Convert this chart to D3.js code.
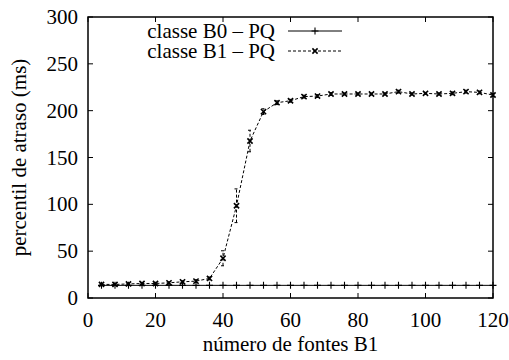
<!DOCTYPE html>
<html>
<head>
<meta charset="utf-8">
<script src="https://cdn.jsdelivr.net/npm/d3@7"></script>
<style>
  html, body { margin: 0; padding: 0; background: #fff; }
  svg { display: block; }
</style>
</head>
<body>
<svg id="chart" width="509" height="360"></svg>
<script>
// number of B1 sources
const fontes = [4, 8, 12, 16, 20, 24, 28, 32, 36, 40, 44, 48, 52, 56, 60,
                64, 68, 72, 76, 80, 84, 88, 92, 96, 100, 104, 108, 112, 116, 120];
// delay percentile (ms), class B0 - PQ
const classeB0 = [13.5, 13.5, 13.5, 13.5, 13.5, 13.5, 13.5, 13.5, 13.5, 13.5,
                  13.5, 13.5, 13.5, 13.5, 13.5, 13.5, 13.5, 13.5, 13.5, 13.5,
                  13.5, 13.5, 13.5, 13.5, 13.5, 13.5, 13.5, 13.5, 13.5, 13.5];
// delay percentile (ms), class B1 - PQ
const classeB1 = [14.5, 14.5, 15, 15.5, 15.5, 16.2, 17.3, 18, 20.9, 42.4,
                  98.5, 167.6, 199, 208.5, 210.6, 215, 215.6, 217.8, 217.8, 217.8,
                  217.8, 217.8, 220.3, 217.8, 218.5, 217.8, 218.5, 220.3, 219.5, 216.7];
// half-width of the B1 error bars (ms)
const erroB1 = [0.5, 0.5, 0.5, 0.8, 0.8, 1, 1, 1.5, 1.5, 8,
                18, 11.5, 3, 2, 1.5, 1.5, 1.5, 1.5, 1, 1,
                1, 1, 1.5, 1, 1, 1, 1.5, 1.5, 1.5, 1.5];

const xTicks = [0, 20, 40, 60, 80, 100, 120];
const yTicks = [0, 50, 100, 150, 200, 250, 300];
const legendLabels = ["classe B0 \u2013 PQ", "classe B1 \u2013 PQ"];
const xLabel = "número de fontes B1";
const yLabel = "percentil de atraso (ms)";

const FONT = '"Liberation Serif", "Times New Roman", serif';
const FS = 21;

const svg = d3.select("#chart");
const plotLeft = 88, plotRight = 493, plotTop = 17, plotBottom = 298;

const x = d3.scaleLinear().domain([0, 120]).range([plotLeft, plotRight]);
const y = d3.scaleLinear().domain([0, 300]).range([plotBottom, plotTop]);

function label(sel) {
  return sel.style("font-family", FONT).style("font-size", FS + "px").attr("fill", "#000");
}

// Inward ticks on all four sides (gnuplot style, mirrored)
const tickLen = 5;
const axes = svg.append("g").attr("stroke", "#000").attr("stroke-width", 1);
xTicks.forEach(t => {
  axes.append("line").attr("x1", x(t)).attr("x2", x(t)).attr("y1", plotBottom).attr("y2", plotBottom - tickLen);
  axes.append("line").attr("x1", x(t)).attr("x2", x(t)).attr("y1", plotTop).attr("y2", plotTop + tickLen);
});
yTicks.forEach(t => {
  axes.append("line").attr("x1", plotLeft).attr("x2", plotLeft + tickLen).attr("y1", y(t)).attr("y2", y(t));
  axes.append("line").attr("x1", plotRight).attr("x2", plotRight - tickLen).attr("y1", y(t)).attr("y2", y(t));
});

// Tick labels
svg.append("g").selectAll("text").data(xTicks).join("text")
  .attr("x", d => x(d)).attr("y", 327)
  .attr("text-anchor", "middle")
  .call(label)
  .text(d => d);
svg.append("g").selectAll("text").data(yTicks).join("text")
  .attr("x", 78).attr("y", d => y(d)).attr("dy", "0.34em")
  .attr("text-anchor", "end")
  .call(label)
  .text(d => d);

// Axis titles
svg.append("text")
  .attr("x", (plotLeft + plotRight) / 2).attr("y", 351)
  .attr("text-anchor", "middle")
  .call(label)
  .text(xLabel);
svg.append("text")
  .attr("transform", `translate(26,${(plotTop + plotBottom) / 2}) rotate(-90)`)
  .attr("text-anchor", "middle")
  .call(label)
  .text(yLabel);

// Marker helpers
function plus(g, cx, cy, s) {
  g.append("path").attr("d", `M${cx - s},${cy}H${cx + s}M${cx},${cy - s}V${cy + s}`)
    .attr("stroke", "#000").attr("stroke-width", 1.1).attr("fill", "none");
}
function cross(g, cx, cy, s) {
  g.append("path").attr("d", `M${cx - s},${cy - s}L${cx + s},${cy + s}M${cx - s},${cy + s}L${cx + s},${cy - s}`)
    .attr("stroke", "#000").attr("stroke-width", 1.6).attr("fill", "none");
}

const b0 = fontes.map((f, i) => ({ x: f, y: classeB0[i] }));
const b1 = fontes.map((f, i) => ({ x: f, y: classeB1[i], e: erroB1[i] }));
const line = d3.line().x(d => x(d.x)).y(d => y(d.y));

const plot = svg.append("g");

// Series B0: solid line with plus markers
plot.append("path").datum(b0).attr("d", line)
  .attr("fill", "none").attr("stroke", "#000").attr("stroke-width", 1);
b0.forEach(d => plus(plot, x(d.x), y(d.y), 3.5));

// Series B1: dashed line, error bars and cross markers
plot.append("path").datum(b1).attr("d", line)
  .attr("fill", "none").attr("stroke", "#000").attr("stroke-width", 1)
  .attr("stroke-dasharray", "3,2");
b1.forEach(d => {
  const cx = x(d.x), y0 = y(d.y - d.e), y1 = y(d.y + d.e);
  plot.append("path")
    .attr("d", `M${cx},${y0}V${y1}M${cx - 2},${y0}H${cx + 2}M${cx - 2},${y1}H${cx + 2}`)
    .attr("fill", "none").attr("stroke", "#000").attr("stroke-width", 1)
    .attr("stroke-dasharray", "3,2");
  cross(plot, cx, y(d.y), 2.6);
});

// Legend
const legend = svg.append("g");
legendLabels.forEach((lab, i) => {
  const ly = 31 + i * 20;
  legend.append("text").attr("x", 275).attr("y", ly).attr("dy", "0.34em")
    .attr("text-anchor", "end")
    .call(label)
    .text(lab);
  const ln = legend.append("line").attr("x1", 288).attr("x2", 342).attr("y1", ly).attr("y2", ly)
    .attr("stroke", "#000").attr("stroke-width", 1);
  if (i === 0) {
    plus(legend, 315, ly, 3.5);
  } else {
    ln.attr("stroke-dasharray", "3,2");
    cross(legend, 315, ly, 2.6);
  }
});

// Frame
svg.append("rect").attr("x", plotLeft).attr("y", plotTop)
  .attr("width", plotRight - plotLeft).attr("height", plotBottom - plotTop)
  .attr("fill", "none").attr("stroke", "#000").attr("stroke-width", 1.5);
</script>
</body>
</html>
